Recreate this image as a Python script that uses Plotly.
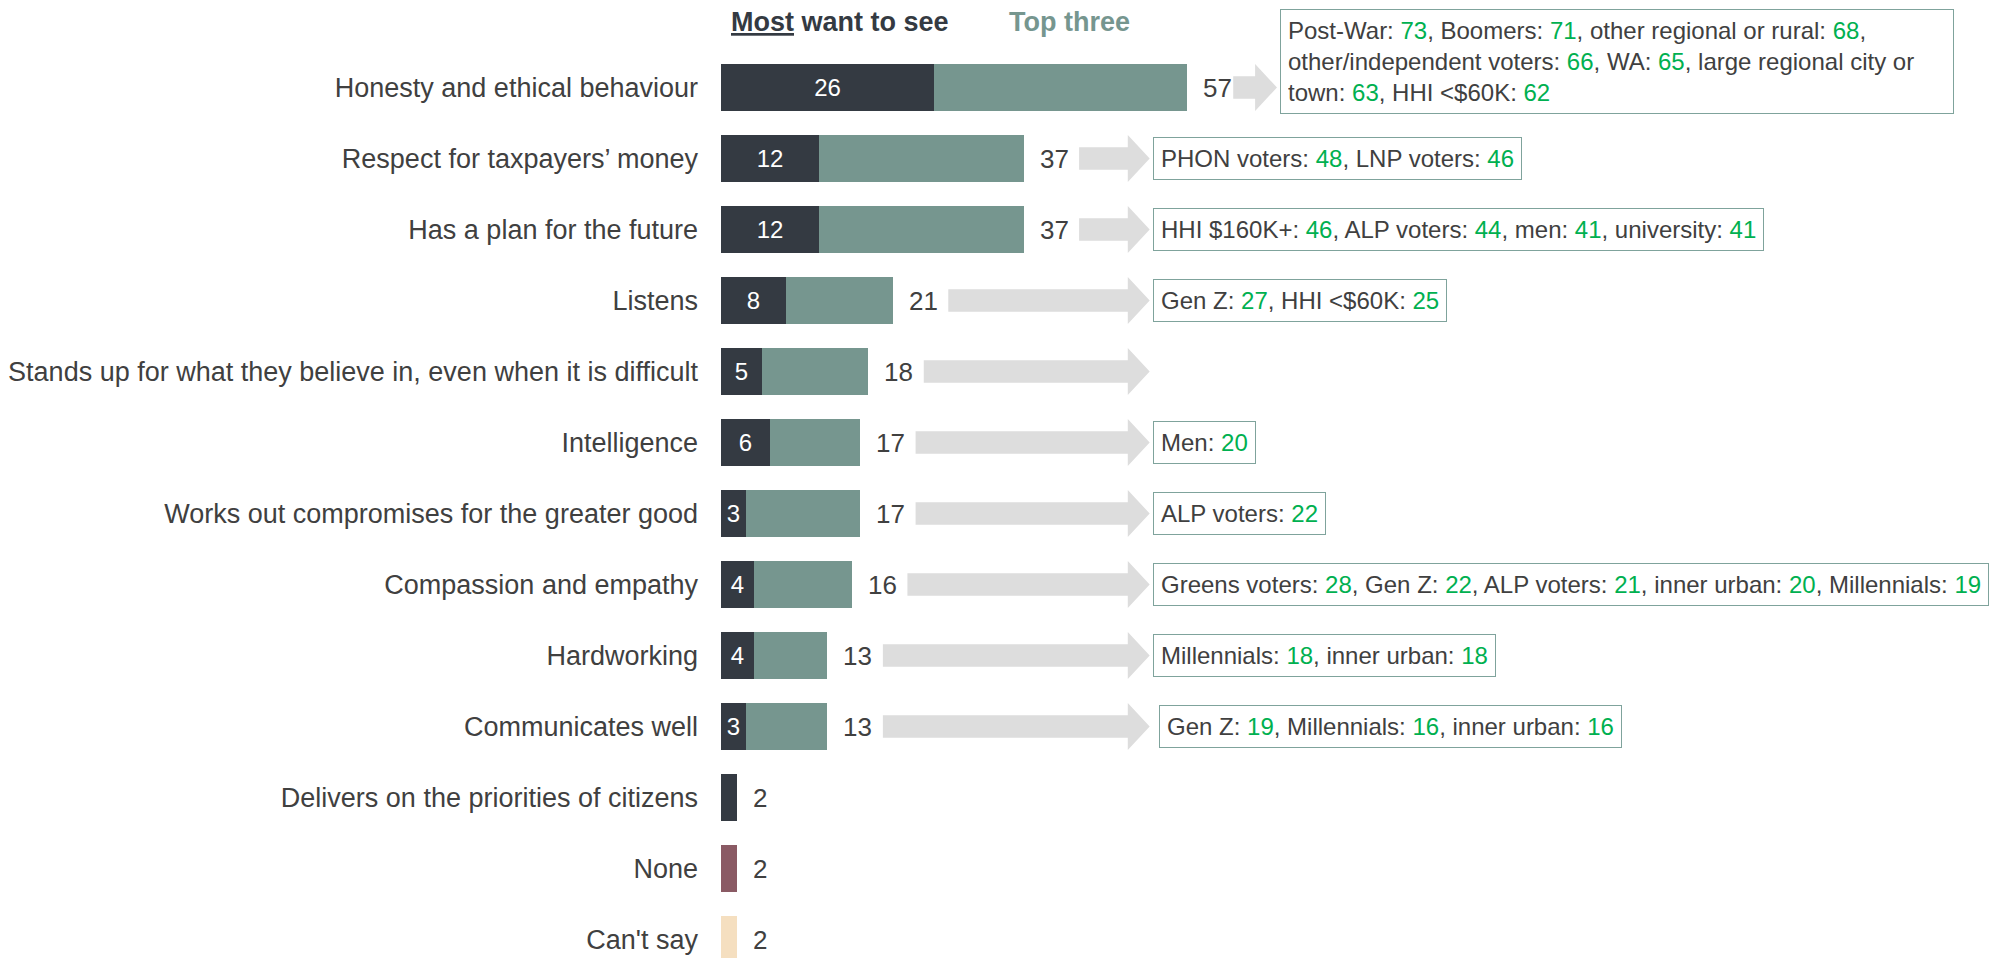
import plotly.graph_objects as go

# ---------------- data ----------------
categories = [
    "Honesty and ethical behaviour",
    "Respect for taxpayers’ money",
    "Has a plan for the future",
    "Listens",
    "Stands up for what they believe in, even when it is difficult",
    "Intelligence",
    "Works out compromises for the greater good",
    "Compassion and empathy",
    "Hardworking",
    "Communicates well",
    "Delivers on the priorities of citizens",
    "None",
    "Can't say",
]
most_want = [26, 12, 12, 8, 5, 6, 3, 4, 4, 3]
top_three = [57, 37, 37, 21, 18, 17, 17, 16, 13, 13]
other_values = [2, 2, 2]  # Delivers on the priorities of citizens, None, Can't say

subgroups = [
    [("Post-War", 73), ("Boomers", 71), ("other regional or rural", 68),
     ("other/independent voters", 66), ("WA", 65), ("large regional city or town", 63), ("HHI <$60K", 62)],
    [("PHON voters", 48), ("LNP voters", 46)],
    [("HHI $160K+", 46), ("ALP voters", 44), ("men", 41), ("university", 41)],
    [("Gen Z", 27), ("HHI <$60K", 25)],
    [],
    [("Men", 20)],
    [("ALP voters", 22)],
    [("Greens voters", 28), ("Gen Z", 22), ("ALP voters", 21), ("inner urban", 20), ("Millennials", 19)],
    [("Millennials", 18), ("inner urban", 18)],
    [("Gen Z", 19), ("Millennials", 16), ("inner urban", 16)],
]

# ---------------- style / layout constants ----------------
DARK = "#343A42"
TEAL = "#76968F"
MAROON = "#8A5A64"
PEACH = "#F5DFC0"
ARROW = "#DDDDDD"
GREEN = "#00B050"
TXT = "#404040"
BOXLINE = "#7FA39C"
FONT = "Liberation Sans, Arial, sans-serif"

W, H = 2006, 958
PAGE_OFFSET = 8          # browser body margin
LEFT = 714 - PAGE_OFFSET
TOP = 52 - PAGE_OFFSET
PX_PER_UNIT = 8.22
ROW_PX = 71.0
BAR_W = 0.66
other_colors = [DARK, MAROON, PEACH]

x_max = (W - LEFT) / PX_PER_UNIT
y_bottom = -0.5 + (H - TOP) / ROW_PX

n_main = len(top_three)
rows_main = list(range(n_main))
rows_other = list(range(n_main, len(categories)))
remainder = [t - m for t, m in zip(top_three, most_want)]

fig = go.Figure()
fig.add_trace(go.Bar(
    y=rows_main, x=most_want, orientation="h", width=BAR_W,
    marker=dict(color=DARK, line=dict(width=0)),
    text=[str(v) for v in most_want], textposition="inside",
    insidetextanchor="middle", textangle=0, constraintext="none",
    textfont=dict(color="white", size=24, family=FONT),
    name="Most want to see", hoverinfo="skip",
))
fig.add_trace(go.Bar(
    y=rows_main, x=remainder, orientation="h", width=BAR_W,
    marker=dict(color=TEAL, line=dict(width=0)),
    name="Top three", hoverinfo="skip",
))
fig.add_trace(go.Bar(
    y=rows_other, x=other_values, orientation="h", width=BAR_W,
    marker=dict(color=other_colors, line=dict(width=0)),
    name="Other", hoverinfo="skip",
))

annotations = []
shapes = []

# total labels
totals = top_three + other_values
for i, v in enumerate(totals):
    annotations.append(dict(
        x=v, y=i, xref="x", yref="y", text=str(v), showarrow=False,
        xanchor="left", yanchor="middle", xshift=14,
        font=dict(size=26, color=TXT, family=FONT),
    ))


def box_html(pairs, wrap=None):
    tokens = []  # (plain, html)
    for k, (name, val) in enumerate(pairs):
        words = name.split(" ")
        for j, w in enumerate(words):
            p = w + (":" if j == len(words) - 1 else "")
            tokens.append((p, p.replace("<", "&lt;")))
        tail = "," if k < len(pairs) - 1 else ""
        tokens.append((str(val) + tail, f'<span style="color:{GREEN}">{val}</span>{tail}'))
    lines, cur, cur_len = [], [], 0
    for p, h in tokens:
        add = len(p) + (1 if cur else 0)
        if wrap and cur and cur_len + add > wrap:
            lines.append(cur)
            cur, cur_len = [], 0
            add = len(p)
        cur.append(h)
        cur_len += add
    if cur:
        lines.append(cur)
    return "<br>".join(" ".join(l) for l in lines)


HEAD_LEN = 22 / PX_PER_UNIT
SHAFT_H = 0.16
HEAD_H = 0.33
ARROW_GAP = 6.8
MIN_ARROW = 44 / PX_PER_UNIT
ARROW_END_FIRST = (1276 - 717) / PX_PER_UNIT
ARROW_END = (1148 - 717) / PX_PER_UNIT

for i, t in enumerate(top_three):
    x1 = ARROW_END_FIRST if i == 0 else ARROW_END
    x0 = min(t + ARROW_GAP, x1 - MIN_ARROW)
    xh = x1 - HEAD_LEN
    y = i
    path = (f"M {x0},{y - SHAFT_H} L {xh},{y - SHAFT_H} L {xh},{y - HEAD_H} "
            f"L {x1},{y} L {xh},{y + HEAD_H} L {xh},{y + SHAFT_H} L {x0},{y + SHAFT_H} Z")
    shapes.append(dict(type="path", path=path, xref="x", yref="y",
                       fillcolor=ARROW, line=dict(width=0), layer="below"))
    if subgroups[i]:
        ann = dict(
            x=x1 + 0.35, y=y, xref="x", yref="y",
            text=box_html(subgroups[i], wrap=60 if i == 0 else None),
            showarrow=False, xanchor="left", yanchor="middle", align="left",
            xshift=6 if i == 9 else 0, yshift=26 if i == 0 else 0,
            bordercolor=BOXLINE, borderwidth=1, borderpad=7, bgcolor="white",
            font=dict(size=24, color=TXT, family=FONT),
        )
        if i == 0:
            ann["width"] = 658
        annotations.append(ann)

# header
annotations.append(dict(
    x=0, y=-0.5, xref="x", yref="y", xanchor="left", yanchor="middle",
    xshift=8, yshift=30, showarrow=False,
    text="<b><u>Most</u> want to see</b>", font=dict(size=27, color=DARK, family=FONT),
))
annotations.append(dict(
    x=0, y=-0.5, xref="x", yref="y", xanchor="left", yanchor="middle",
    xshift=286, yshift=30, showarrow=False,
    text="<b>Top three</b>", font=dict(size=27, color=TEAL, family=FONT),
))

fig.update_layout(
    width=W, height=H, barmode="stack", bargap=0,
    margin=dict(l=LEFT, r=0, t=TOP, b=0, pad=0),
    plot_bgcolor="white", paper_bgcolor="white", showlegend=False,
    font=dict(family=FONT, color=TXT),
    xaxis=dict(range=[0, x_max], visible=False, fixedrange=True),
    yaxis=dict(range=[y_bottom, -0.5], tickmode="array", tickvals=list(range(len(categories))),
               ticktext=categories, showgrid=False, zeroline=False, showline=False,
               ticks="", ticklabelstandoff=22, tickfont=dict(size=27, color=TXT, family=FONT)),
    annotations=annotations, shapes=shapes,
    uniformtext=dict(mode=False),
)

fig.write_html("out.html")
